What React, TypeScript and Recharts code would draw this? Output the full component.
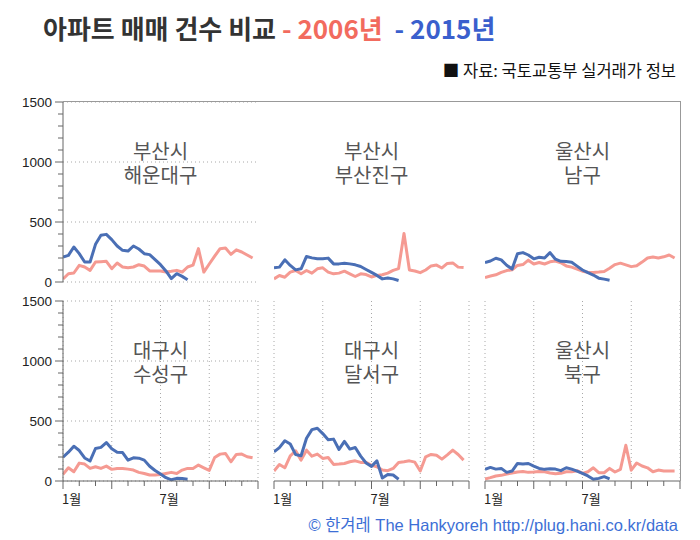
import React from 'react';
import { LineChart, Line, XAxis, YAxis, CartesianGrid } from 'recharts';

const COLOR_2006 = '#f59a92';
const COLOR_2015 = '#4a6fb5';

const yTicks = [0, 100, 200, 300, 400, 500, 600, 700, 800, 900, 1000, 1100, 1200, 1300, 1400, 1500];
const yMajor = [0, 500, 1000, 1500];
const monthTicks = [0, 3, 6, 9, 12, 15, 18, 21, 24, 27, 30, 33, 36];
const monthLabels = ['1월', '', '', '', '', '', '7월', '', '', '', '', '', ''];
const quarterTicks = [0, 9, 18, 27, 36];

const regionNames = [
  ['부산시', '해운대구'],
  ['부산시', '부산진구'],
  ['울산시', '남구'],
  ['대구시', '수성구'],
  ['대구시', '달서구'],
  ['울산시', '북구'],
];

// 10-day periods, 2006 (full year) and 2015 (to August)
const haeundae2006 = [25, 69, 75, 139, 125, 97, 167, 169, 172, 111, 158, 125, 119, 125, 144, 133, 92, 92, 92, 83, 89, 97, 83, 125, 140, 278, 83, 150, 215, 278, 283, 230, 268, 250, 225, 200];
const haeundae2015 = [208, 222, 292, 236, 167, 167, 314, 389, 397, 353, 300, 264, 258, 300, 275, 236, 228, 186, 144, 92, 28, 69, 47, 19];
const busanjin2006 = [26, 54, 40, 82, 96, 68, 96, 74, 110, 118, 82, 68, 74, 90, 68, 46, 68, 62, 42, 55, 60, 74, 97, 112, 405, 100, 92, 78, 100, 134, 141, 117, 155, 159, 124, 120];
const busanjin2015 = [118, 124, 185, 138, 101, 110, 213, 201, 193, 193, 199, 151, 151, 157, 151, 143, 129, 104, 80, 55, 26, 34, 26, 13];
const ulsanNam2006 = [38, 50, 60, 80, 95, 102, 138, 145, 182, 150, 163, 150, 168, 175, 160, 134, 124, 108, 90, 82, 80, 83, 88, 115, 145, 157, 143, 128, 135, 166, 200, 208, 200, 210, 225, 200];
const ulsanNam2015 = [163, 175, 198, 184, 140, 108, 236, 245, 225, 193, 206, 200, 245, 190, 172, 170, 165, 132, 100, 78, 58, 32, 24, 15];
const suseong2006 = [55, 110, 77, 149, 141, 105, 119, 105, 124, 97, 105, 105, 99, 91, 72, 63, 50, 50, 55, 63, 72, 63, 91, 105, 105, 133, 110, 88, 196, 224, 229, 160, 221, 224, 202, 193];
const suseong2015 = [198, 240, 290, 254, 192, 167, 271, 280, 320, 268, 240, 237, 174, 193, 190, 174, 123, 88, 59, 28, 10, 22, 20, 15];
const dalseo2006 = [83, 138, 110, 210, 251, 174, 257, 207, 224, 188, 196, 138, 141, 146, 160, 168, 155, 155, 130, 119, 91, 86, 105, 155, 160, 168, 157, 83, 202, 221, 215, 182, 218, 257, 221, 174];
const dalseo2015 = [243, 278, 335, 308, 220, 210, 356, 428, 440, 395, 344, 349, 263, 330, 266, 279, 207, 150, 122, 168, 25, 55, 50, 15];
const ulsanBuk2006 = [17, 28, 42, 47, 58, 66, 75, 80, 72, 75, 80, 77, 66, 61, 64, 77, 77, 86, 64, 77, 110, 69, 69, 105, 75, 97, 298, 90, 150, 125, 110, 77, 91, 83, 83, 83];
const ulsanBuk2015 = [97, 113, 99, 105, 72, 83, 146, 141, 146, 124, 105, 97, 102, 99, 86, 110, 99, 83, 64, 42, 14, 22, 36, 17];

const series2006 = [haeundae2006, busanjin2006, ulsanNam2006, suseong2006, dalseo2006, ulsanBuk2006];
const series2015 = [haeundae2015, busanjin2015, ulsanNam2015, suseong2015, dalseo2015, ulsanBuk2015];

const CJK = "'Noto Sans CJK KR', 'Noto Sans', sans-serif";
const LATIN = "'Liberation Sans', Arial, 'Noto Sans CJK KR', sans-serif";

const PLOT_W = 195;
const PLOT_H = 180;
const LEFT_W = 60;
const TOP_M = 10;
const BOTTOM_H = 30;
const colLefts = [63, 274, 485];
const rowTops = [101.5, 300.5];

const YTick = (props: any) => {
  const { x, y, payload } = props;
  const v = payload.value;
  const major = v % 500 === 0;
  return (
    <g>
      <line x1={x - (major ? 8 : 5)} x2={x} y1={y} y2={y} stroke="#666" />
      {major && (
        <text x={x - 11} y={y} dy="0.36em" textAnchor="end" fontSize={13.5} fill="#222" fontFamily={LATIN}>
          {v}
        </text>
      )}
    </g>
  );
};

const XTick = (props: any) => {
  const { x, y, payload, index } = props;
  const v = payload.value;
  const major = v % 9 === 0;
  const label = monthLabels[index] || '';
  return (
    <g>
      <line x1={x} x2={x} y1={y} y2={y + (major ? 8 : 5)} stroke="#666" />
      {label && (
        <text x={x - 1} y={y + 23} textAnchor="start" fontSize={13} fill="#222" fontFamily={CJK}>
          {label}
        </text>
      )}
    </g>
  );
};

function Panel({ idx }: { idx: number }) {
  const row = Math.floor(idx / 3);
  const col = idx % 3;
  const a = series2006[idx];
  const b = series2015[idx];
  const data = a.map((v, i) => ({ k: i, a: v, b: i < b.length ? b[i] : null }));
  const plotLeft = colLefts[col];
  const plotTop = rowTops[row];
  return (
    <>
      <div style={{ position: 'absolute', left: plotLeft - LEFT_W, top: plotTop - TOP_M }}>
        <LineChart
          width={LEFT_W + PLOT_W + 10}
          height={TOP_M + PLOT_H + BOTTOM_H}
          data={data}
          margin={{ top: TOP_M, right: 10, bottom: 0, left: 0 }}
        >
          <CartesianGrid
            stroke="#a8a8a8"
            strokeDasharray="1 3"
            horizontalValues={yMajor}
            verticalValues={quarterTicks}
          />
          <XAxis
            type="number"
            dataKey="k"
            domain={[0, 36]}
            ticks={monthTicks}
            interval={0}
            height={BOTTOM_H}
            tickSize={0}
            tickMargin={0}
            axisLine={row === 1 ? { stroke: '#666' } : false}
            tickLine={false}
            tick={row === 1 ? (p: any) => <XTick {...p} /> : false}
            allowDataOverflow
          />
          <YAxis
            type="number"
            domain={[0, 1500]}
            ticks={yTicks}
            interval={0}
            width={LEFT_W}
            tickSize={0}
            tickMargin={0}
            axisLine={col === 0 ? { stroke: '#666' } : false}
            tickLine={false}
            tick={col === 0 ? (p: any) => <YTick {...p} /> : false}
            allowDataOverflow
          />
          <Line
            type="linear"
            dataKey="a"
            stroke={COLOR_2006}
            strokeWidth={3}
            strokeLinejoin="round"
            dot={false}
            activeDot={false}
            isAnimationActive={false}
          />
          <Line
            type="linear"
            dataKey="b"
            stroke={COLOR_2015}
            strokeWidth={3}
            strokeLinejoin="round"
            dot={false}
            activeDot={false}
            isAnimationActive={false}
          />
        </LineChart>
      </div>
      <div
        style={{
          position: 'absolute',
          left: plotLeft,
          top: plotTop + 37,
          width: PLOT_W,
          textAlign: 'center',
          fontFamily: CJK,
          fontSize: 20,
          lineHeight: '24px',
          color: '#555',
        }}
      >
        <div>{regionNames[idx][0]}</div>
        <div>{regionNames[idx][1]}</div>
      </div>
    </>
  );
}

export default function App() {
  return (
    <div style={{ position: 'relative', width: 700, height: 540, background: '#fff', overflow: 'hidden' }}>
      <style>{`body{margin:0;}`}</style>
      <div
        style={{
          position: 'absolute',
          left: 43,
          top: 8,
          fontFamily: CJK,
          fontSize: 26,
          fontWeight: 700,
          lineHeight: '40px',
          color: '#333',
          whiteSpace: 'pre',
        }}
      >
        아파트 매매 건수 비교 <span style={{ color: '#f26b5e' }}>- 2006년</span>
        {'  '}
        <span style={{ color: '#3a5fcd' }}>- 2015년</span>
      </div>
      <div
        style={{
          position: 'absolute',
          right: 24,
          top: 59,
          fontFamily: CJK,
          fontSize: 16.5,
          lineHeight: '22px',
          color: '#111',
          whiteSpace: 'pre',
        }}
      >
        ■ 자료: 국토교통부 실거래가 정보
      </div>
      {[0, 1, 2, 3, 4, 5].map((i) => (
        <Panel key={i} idx={i} />
      ))}
      <div style={{ position: 'absolute', left: 63, top: 101, width: 617, height: 1, background: '#999' }} />
      <div style={{ position: 'absolute', left: 680, top: 101, width: 1, height: 380, background: '#999' }} />
      <div
        style={{
          position: 'absolute',
          right: 22,
          top: 514,
          fontFamily: LATIN,
          fontSize: 16.5,
          lineHeight: '22px',
          color: '#3d6fd6',
          whiteSpace: 'pre',
        }}
      >
        © 한겨레 The Hankyoreh http://plug.hani.co.kr/data
      </div>
    </div>
  );
}
